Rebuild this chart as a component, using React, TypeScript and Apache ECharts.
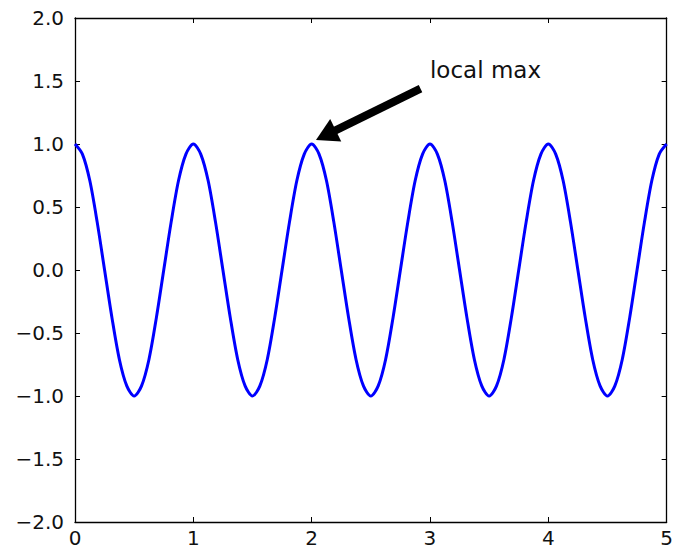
import React, { useEffect, useRef } from "react";
import * as echarts from "echarts";

const tValues = [
  0, 0.0625, 0.125, 0.1875, 0.25, 0.3125, 0.375, 0.4375,
  0.5, 0.5625, 0.625, 0.6875, 0.75, 0.8125, 0.875, 0.9375,
  1, 1.0625, 1.125, 1.1875, 1.25, 1.3125, 1.375, 1.4375,
  1.5, 1.5625, 1.625, 1.6875, 1.75, 1.8125, 1.875, 1.9375,
  2, 2.0625, 2.125, 2.1875, 2.25, 2.3125, 2.375, 2.4375,
  2.5, 2.5625, 2.625, 2.6875, 2.75, 2.8125, 2.875, 2.9375,
  3, 3.0625, 3.125, 3.1875, 3.25, 3.3125, 3.375, 3.4375,
  3.5, 3.5625, 3.625, 3.6875, 3.75, 3.8125, 3.875, 3.9375,
  4, 4.0625, 4.125, 4.1875, 4.25, 4.3125, 4.375, 4.4375,
  4.5, 4.5625, 4.625, 4.6875, 4.75, 4.8125, 4.875, 4.9375, 5,
];
const sValues = [
  1, 0.92, 0.71, 0.38, 0, -0.38, -0.71, -0.92,
  -1, -0.92, -0.71, -0.38, 0, 0.38, 0.71, 0.92,
  1, 0.92, 0.71, 0.38, 0, -0.38, -0.71, -0.92,
  -1, -0.92, -0.71, -0.38, 0, 0.38, 0.71, 0.92,
  1, 0.92, 0.71, 0.38, 0, -0.38, -0.71, -0.92,
  -1, -0.92, -0.71, -0.38, 0, 0.38, 0.71, 0.92,
  1, 0.92, 0.71, 0.38, 0, -0.38, -0.71, -0.92,
  -1, -0.92, -0.71, -0.38, 0, 0.38, 0.71, 0.92,
  1, 0.92, 0.71, 0.38, 0, -0.38, -0.71, -0.92,
  -1, -0.92, -0.71, -0.38, 0, 0.38, 0.71, 0.92, 1,
];
const annotationText = "local max";
const annotationTextPos = [3, 1.5];
const arrowStart = [2.92, 1.44];
const arrowEnd = [2.12, 1.07];

const FONT = "DejaVu Sans";

export default function App() {
  const ref = useRef<HTMLDivElement>(null);
  useEffect(() => {
    if (!ref.current) return;
    const chart = echarts.init(ref.current, null, { renderer: "svg", width: 676, height: 551 });
    const axisCommon = {
      axisLine: { show: true, onZero: false, lineStyle: { color: "#000", width: 1.3 } },
      axisTick: { show: true, inside: true, length: 5, lineStyle: { color: "#000", width: 1 } },
      splitLine: { show: false },
    };
    chart.setOption({
      animation: false,
      grid: { left: 75, top: 18, width: 596, height: 504, containLabel: false },
      xAxis: [
        {
          type: "value", min: 0, max: 5, interval: 1, position: "bottom",
          ...axisCommon,
          axisLabel: { color: "#111", fontFamily: FONT, fontSize: 20, margin: 6 },
        },
        {
          type: "value", min: 0, max: 5, interval: 1, position: "top",
          ...axisCommon,
          axisLabel: { show: false },
        },
      ],
      yAxis: [
        {
          type: "value", min: -2, max: 2, interval: 0.5, position: "left",
          ...axisCommon,
          axisLabel: {
            color: "#111", fontFamily: FONT, fontSize: 20, margin: 11,
            formatter: (v: number) => (v < 0 ? "\u2212" + Math.abs(v).toFixed(1) : v.toFixed(1)),
          },
        },
        {
          type: "value", min: -2, max: 2, interval: 0.5, position: "right",
          ...axisCommon,
          axisLabel: { show: false },
        },
      ],
      series: [
        {
          type: "line",
          data: tValues.map((t, i) => [t, sValues[i]]),
          smooth: 0.3,
          showSymbol: false,
          lineStyle: { color: "#0000ff", width: 3 },
          markLine: {
            silent: true,
            symbol: ["none", "triangle"],
            symbolSize: [25, 22],
            label: { show: false },
            lineStyle: { color: "#000", width: 8, type: "solid" },
            data: [[{ coord: arrowStart }, { coord: arrowEnd }]],
          },
        },
      ],
    });
    const p = chart.convertToPixel({ xAxisIndex: 0, yAxisIndex: 0 }, annotationTextPos) as number[];
    chart.setOption({
      graphic: [
        {
          type: "text",
          x: p[0],
          y: p[1],
          style: {
            text: annotationText,
            fontFamily: FONT,
            fontSize: 23,
            fill: "#111",
            textAlign: "left",
            textVerticalAlign: "bottom",
          },
        },
      ],
    });
    return () => chart.dispose();
  }, []);
  return (
    <div
      ref={ref}
      style={{ position: "fixed", left: 0, top: 0, width: 676, height: 551, background: "#fff" }}
    />
  );
}
